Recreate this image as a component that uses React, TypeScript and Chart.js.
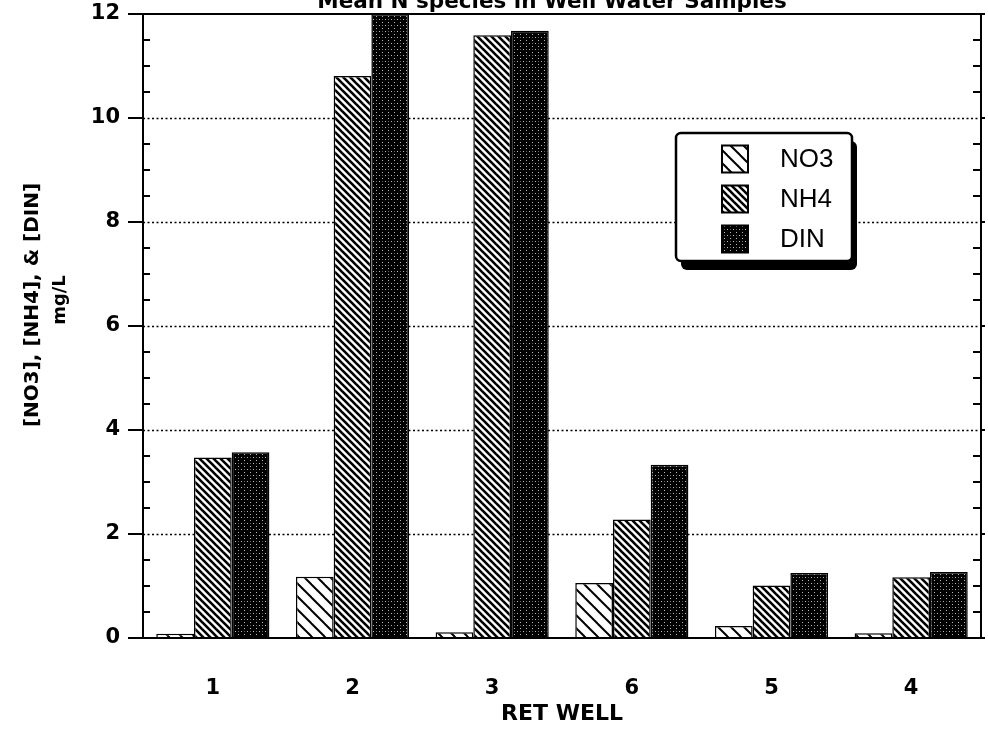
import { useEffect, useRef } from "react";
import { Chart, registerables } from "chart.js";

Chart.register(...registerables);

const TITLE = "Mean N species in Well Water Samples";
const WELLS = ["1", "2", "3", "6", "5", "4"];
const SERIES_LABELS = ["NO3", "NH4", "DIN"];
const NO3 = [0.08, 1.18, 0.11, 1.06, 0.23, 0.09];
const NH4 = [3.47, 10.81, 11.59, 2.28, 1.01, 1.17];
const DIN = [3.57, 12.0, 11.68, 3.33, 1.25, 1.27];
const Y_MIN = 0;
const Y_MAX = 12;
const Y_STEP = 2;
const Y_MINOR_STEP = 0.5;
const Y_TITLE = ["[NO3], [NH4], & [DIN]", "mg/L"];
const X_TITLE = "RET WELL";

const BOLD = "'DejaVu Sans', sans-serif";
const REG = "'Liberation Sans', Arial, sans-serif";

function hatchPattern(size: number, lw: number): CanvasPattern | string {
  const c = document.createElement("canvas");
  c.width = size;
  c.height = size;
  const g = c.getContext("2d");
  if (!g) return "#fff";
  g.fillStyle = "#fff";
  g.fillRect(0, 0, size, size);
  g.strokeStyle = "#000";
  g.lineWidth = lw;
  for (const k of [-size, 0, size]) {
    g.beginPath();
    g.moveTo(k - 1, -1);
    g.lineTo(k + size + 1, size + 1);
    g.stroke();
  }
  const p = g.createPattern(c, "repeat");
  return p || "#fff";
}

function stipplePattern(): CanvasPattern | string {
  const c = document.createElement("canvas");
  c.width = 6;
  c.height = 6;
  const g = c.getContext("2d");
  if (!g) return "#000";
  g.fillStyle = "#000";
  g.fillRect(0, 0, 6, 6);
  g.fillStyle = "#bbb";
  g.fillRect(1, 1, 1, 1);
  g.fillRect(4, 4, 1, 1);
  g.fillStyle = "#666";
  g.fillRect(4, 1, 1, 1);
  const p = g.createPattern(c, "repeat");
  return p || "#000";
}

export default function App() {
  const ref = useRef<HTMLCanvasElement | null>(null);

  useEffect(() => {
    document.body.style.margin = "0";
    const canvas = ref.current;
    if (!canvas) return;
    const fills = [hatchPattern(13, 2), hatchPattern(7, 2.6), stipplePattern()];

    const decor = {
      id: "decor",
      beforeDatasetsDraw(chart: any) {
        const { ctx, chartArea: a } = chart;
        const y = chart.scales.y;
        ctx.save();
        ctx.strokeStyle = "#000";
        ctx.lineWidth = 1.5;
        ctx.setLineDash([2, 2.5]);
        for (let v = Y_MIN + Y_STEP; v < Y_MAX; v += Y_STEP) {
          const py = Math.round(y.getPixelForValue(v)) + 0.5;
          ctx.beginPath();
          ctx.moveTo(a.left, py);
          ctx.lineTo(a.right, py);
          ctx.stroke();
        }
        ctx.restore();
      },
      afterDatasetsDraw(chart: any) {
        const { ctx, chartArea: a } = chart;
        const y = chart.scales.y;
        ctx.save();
        ctx.strokeStyle = "#000";
        ctx.lineWidth = 2;
        ctx.beginPath();
        ctx.moveTo(a.left, a.top);
        ctx.lineTo(a.left, a.bottom + 1);
        ctx.moveTo(a.right, a.top);
        ctx.lineTo(a.right, a.bottom + 1);
        ctx.moveTo(a.left - 15, a.top);
        ctx.lineTo(a.right + 4, a.top);
        ctx.moveTo(a.left - 15, a.bottom);
        ctx.lineTo(a.right + 4, a.bottom);
        ctx.stroke();
        ctx.lineWidth = 1.8;
        const n = Math.round((Y_MAX - Y_MIN) / Y_MINOR_STEP);
        for (let i = 0; i <= n; i++) {
          const v = Y_MIN + i * Y_MINOR_STEP;
          const py = y.getPixelForValue(v);
          const major = Math.abs(v / Y_STEP - Math.round(v / Y_STEP)) < 1e-6;
          ctx.beginPath();
          if (major) {
            ctx.moveTo(a.left - 15, py);
            ctx.lineTo(a.left, py);
            ctx.moveTo(a.right, py);
            ctx.lineTo(a.right + 4, py);
          } else {
            ctx.moveTo(a.left, py);
            ctx.lineTo(a.left + 7, py);
            ctx.moveTo(a.right - 8, py);
            ctx.lineTo(a.right, py);
          }
          ctx.stroke();
        }
        ctx.restore();
      },
      afterDraw(chart: any) {
        const { ctx } = chart;
        ctx.save();
        ctx.fillStyle = "#000";
        ctx.font = `bold 21.5px ${BOLD}`;
        ctx.textAlign = "center";
        ctx.textBaseline = "alphabetic";
        ctx.fillText(TITLE, 552, 8);

        ctx.save();
        ctx.translate(33, 305);
        ctx.rotate(-Math.PI / 2);
        ctx.textBaseline = "middle";
        ctx.font = `bold 20px ${BOLD}`;
        ctx.fillText(Y_TITLE[0], 0, 0);
        ctx.restore();
        ctx.save();
        ctx.translate(60, 300);
        ctx.rotate(-Math.PI / 2);
        ctx.textBaseline = "middle";
        ctx.textAlign = "center";
        ctx.font = `bold 18px ${BOLD}`;
        ctx.fillText(Y_TITLE[1], 0, 0);
        ctx.restore();

        const bx = 676, by = 133, bw = 176, bh = 128;
        ctx.fillStyle = "#000";
        ctx.beginPath();
        ctx.roundRect(bx + 5, by + 8, bw, bh + 1, 6);
        ctx.fill();
        ctx.fillStyle = "#fff";
        ctx.strokeStyle = "#000";
        ctx.lineWidth = 2.5;
        ctx.beginPath();
        ctx.roundRect(bx, by, bw, bh, 5);
        ctx.fill();
        ctx.stroke();
        ctx.font = `26px ${REG}`;
        ctx.textAlign = "left";
        ctx.textBaseline = "middle";
        chart.data.datasets.forEach((ds: any, i: number) => {
          const cy = 158.5 + i * 40;
          ctx.fillStyle = ds.backgroundColor;
          ctx.fillRect(722, cy - 13, 26, 27);
          ctx.lineWidth = 2;
          ctx.strokeStyle = "#000";
          ctx.strokeRect(722, cy - 13, 26, 27);
          ctx.fillStyle = "#000";
          ctx.fillText(ds.label, 780, cy + 1);
        });
        ctx.restore();
      },
    };

    const tickFont = { family: BOLD, weight: "bold" as const, size: 21 };

    const chart = new Chart(canvas, {
      type: "bar",
      data: {
        labels: WELLS,
        datasets: [NO3, NH4, DIN].map((d, i) => ({
          label: SERIES_LABELS[i],
          data: d,
          backgroundColor: fills[i] as any,
          borderColor: "#000",
          borderWidth: 1.5,
          borderSkipped: "bottom" as const,
          categoryPercentage: 0.81,
          barPercentage: 1.0,
        })),
      },
      options: {
        responsive: false,
        animation: false,
        events: [],
        layout: { padding: { top: 14, right: 7, left: 0, bottom: 0 } },
        plugins: {
          legend: { display: false },
          title: { display: false },
          tooltip: { enabled: false },
        },
        scales: {
          x: {
            grid: { display: false, drawTicks: false },
            border: { display: false },
            ticks: { font: tickFont, color: "#000", padding: 38 },
            title: {
              display: true,
              text: X_TITLE,
              color: "#000",
              font: { family: BOLD, weight: "bold", size: 22 },
              padding: { top: 0, bottom: 22 },
            },
            afterFit: (s: any) => {
              s.height = 111;
              s.paddingLeft = 0;
              s.paddingRight = 0;
            },
          },
          y: {
            min: Y_MIN,
            max: Y_MAX,
            grid: { display: false, drawTicks: false },
            border: { display: false },
            ticks: { stepSize: Y_STEP, font: tickFont, color: "#000", padding: 23 },
            afterFit: (s: any) => {
              s.width = 143;
              s.paddingTop = 0;
              s.paddingBottom = 0;
            },
          },
        },
      },
      plugins: [decor],
    });
    return () => chart.destroy();
  }, []);

  return (
    <div style={{ width: 988, height: 749 }}>
      <canvas ref={ref} width={988} height={749} style={{ display: "block" }} />
    </div>
  );
}
